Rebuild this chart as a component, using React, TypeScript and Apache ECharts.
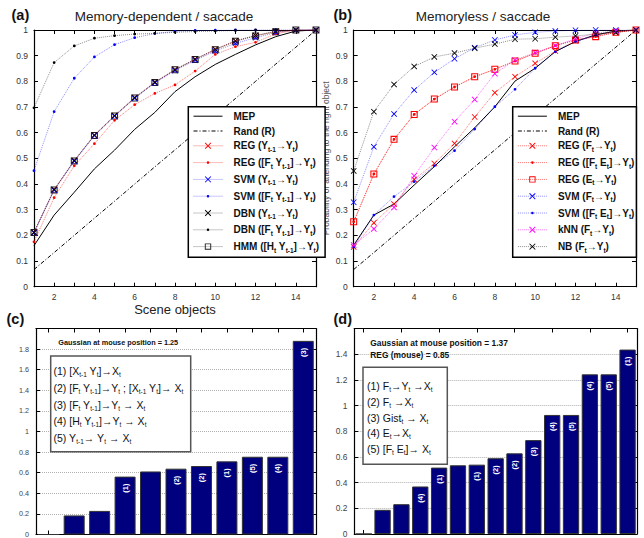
import React, { useEffect, useRef } from 'react';
import * as echarts from 'echarts';

const FONT = '"Liberation Sans", Arial, Helvetica, sans-serif';

// ---------- shared x values (scene objects) ----------
const sceneObjects = [1, 2, 3, 4, 5, 6, 7, 8, 9, 10, 11, 12, 13, 14, 15];
const xTickLabels = ['2', '4', '6', '8', '10', '12', '14'];

// ---------- Panel (a): Memory-dependent / saccade ----------
const mepA = [0.160, 0.279, 0.368, 0.459, 0.532, 0.613, 0.679, 0.760, 0.818, 0.866, 0.905, 0.942, 0.974, 0.996, 1.0];
const randA = [0.067, 0.133, 0.2, 0.267, 0.333, 0.4, 0.467, 0.533, 0.6, 0.667, 0.733, 0.8, 0.867, 0.933, 1.0];
const regYA = [0.212, 0.378, 0.491, 0.590, 0.666, 0.736, 0.796, 0.845, 0.886, 0.924, 0.957, 0.978, 0.994, 1.0, 1.0];
const regFYA = [0.175, 0.347, 0.471, 0.557, 0.648, 0.709, 0.753, 0.786, 0.840, 0.905, 0.935, 0.952, 0.985, 1.0, 1.0];
const svmYA = [0.210, 0.376, 0.489, 0.588, 0.664, 0.734, 0.794, 0.842, 0.882, 0.918, 0.948, 0.970, 0.990, 1.0, 1.0];
const svmFYA = [0.452, 0.682, 0.812, 0.895, 0.943, 0.970, 0.986, 0.995, 0.998, 0.999, 1.0, 1.0, 1.0, 1.0, 1.0];
const dbnYA = [0.212, 0.379, 0.492, 0.591, 0.667, 0.737, 0.797, 0.846, 0.887, 0.925, 0.958, 0.979, 0.995, 1.0, 1.0];
const dbnFYA = [0.697, 0.873, 0.938, 0.968, 0.978, 0.984, 0.987, 0.991, 0.994, 0.996, 0.998, 0.999, 1.0, 1.0, 1.0];
const hmmA = [0.211, 0.377, 0.490, 0.589, 0.665, 0.735, 0.795, 0.845, 0.885, 0.923, 0.956, 0.977, 0.993, 1.0, 1.0];

// ---------- Panel (b): Memoryless / saccade ----------
const mepB = [0.162, 0.279, 0.322, 0.396, 0.468, 0.545, 0.619, 0.701, 0.801, 0.851, 0.916, 0.955, 0.981, 0.996, 1.0];
const randB = [0.067, 0.133, 0.2, 0.267, 0.333, 0.4, 0.467, 0.533, 0.6, 0.667, 0.733, 0.8, 0.867, 0.933, 1.0];
const regFB = [0.155, 0.249, 0.322, 0.418, 0.480, 0.558, 0.661, 0.756, 0.818, 0.870, 0.918, 0.958, 0.981, 0.994, 1.0];
const regFEB = [0.253, 0.439, 0.574, 0.671, 0.731, 0.778, 0.818, 0.847, 0.879, 0.909, 0.939, 0.961, 0.974, 0.991, 1.0];
const regEB = [0.253, 0.439, 0.574, 0.671, 0.731, 0.778, 0.818, 0.847, 0.879, 0.909, 0.939, 0.961, 0.974, 0.991, 1.0];
const svmFB = [0.329, 0.545, 0.673, 0.766, 0.835, 0.888, 0.931, 0.961, 0.981, 0.991, 0.996, 0.999, 1.0, 1.0, 1.0];
const svmFEB = [0.155, 0.279, 0.351, 0.409, 0.471, 0.530, 0.614, 0.701, 0.769, 0.851, 0.915, 0.955, 0.980, 0.995, 1.0];
const knnB = [0.162, 0.225, 0.309, 0.432, 0.542, 0.643, 0.729, 0.830, 0.883, 0.912, 0.939, 0.966, 0.988, 0.996, 1.0];
const nbB = [0.451, 0.682, 0.788, 0.858, 0.895, 0.910, 0.929, 0.945, 0.964, 0.966, 0.972, 0.977, 0.984, 0.990, 1.0];

// ---------- Panel (c) ----------
const catsC = ['c1', 'c2', 'c3', 'c4', 'c5', 'c6', 'c7', 'c8', 'c9', 'c10', 'c11'];
const barsC = [0, 0.185, 0.229, 0.562, 0.612, 0.639, 0.665, 0.710, 0.755, 0.755, 1.88];
const tagsC = ['', '', '', '(1)', '', '(2)', '(2)', '(1)', '(5)', '(4)', '(3)'];
const infoC = ['Gaussian at mouse position = 1.25'];
const keyC = [
  '(1) [X_{t-1} Y_t]→X_t',
  '(2) [F_t Y_{t-1}]→Y_t ; [X_{t-1} Y_t]→ X_t',
  '(3) [F_t Y_{t-1}]→Y_t → X_t',
  '(4) [H_t Y_{t-1}]→Y_t → X_t',
  '(5) Y_{t-1}→ Y_t → X_t',
];

// ---------- Panel (d) ----------
const catsD = ['d1', 'd2', 'd3', 'd4', 'd5', 'd6', 'd7', 'd8', 'd9', 'd10', 'd11', 'd12', 'd13', 'd14', 'd15'];
const barsD = [0, 0.188, 0.232, 0.370, 0.517, 0.535, 0.540, 0.590, 0.628, 0.731, 0.927, 0.927, 1.243, 1.243, 1.436];
const tagsD = ['', '', '', '(4)', '(1)', '', '(1)', '(2)', '(2)', '(3)', '(4)', '(5)', '(4)', '(5)', '(1)'];
const infoD = ['Gaussian at mouse position = 1.37', 'REG (mouse) = 0.85'];
const keyD = [
  '(1) F_t→Y_t →X_t',
  '(2) F_t →X_t',
  '(3) Gist_t → X_t',
  '(4) E_t→X_t',
  '(5) [F_t E_t]→ X_t',
];

// ---------- helpers ----------
const X_SYM = 'path://M0,1L1,0L5,4L9,0L10,1L6,5L10,9L9,10L5,6L1,10L0,9L4,5Z';
const SQ_SYM = 'path://M0,0H10V10H0ZM1.5,1.5V8.5H8.5V1.5Z';
// small dot inside an otherwise empty 10x10 box (tiny zero-area marks keep the box)
const DOT_SYM = 'path://M0,0L0.01,0L0,0.01ZM10,10L9.99,10L10,9.99ZM3,5A2,2 0 1,0 7,5A2,2 0 1,0 3,5Z';

function toRich(s: string, n = 'n', sub = 's'): string {
  const parts = s.split(/(_\{[^}]*\}|_[A-Za-z0-9])/).filter((p) => p.length > 0);
  return parts
    .map((p) => {
      if (p.startsWith('_{')) return `{${sub}|${p.slice(2, -1)}}`;
      if (p.startsWith('_')) return `{${sub}|${p.slice(1)}}`;
      return `{${n}|${p}}`;
    })
    .join('');
}

function lineSeries(
  name: string,
  values: number[],
  panel: number,
  color: string,
  lineColor: string,
  lineType: any,
  symbol: string,
  symbolSize: number,
  z = 3
) {
  const noMarker = symbol === 'none';
  return {
    type: 'line',
    name,
    xAxisIndex: panel * 2,
    yAxisIndex: panel * 2,
    data: sceneObjects.map((k, i) => [k, values[i]]),
    symbol: noMarker ? 'circle' : symbol,
    symbolSize: noMarker ? 1 : symbolSize,
    showSymbol: !noMarker,
    itemStyle: { color: noMarker ? 'rgba(0,0,0,0)' : color },
    lineStyle: { color: lineColor, width: 1, type: lineType },
    z,
    silent: true,
  };
}

const RED_L = 'rgba(255,0,0,0.55)';
const BLUE_L = 'rgba(0,0,255,0.45)';
const BLACK_L = 'rgba(0,0,0,0.45)';
const MAG_L = 'rgba(255,0,255,0.55)';
const DASHDOT = [4, 2, 1, 2];

const axisLine = { show: true, onZero: false, lineStyle: { color: '#000', width: 1.2 } };
const tickIn = { show: true, inside: true, length: 4, lineStyle: { color: '#000', width: 1 } };

function lineXAxes(grid: number, withName: boolean) {
  const base = {
    type: 'value',
    gridIndex: grid,
    min: 1,
    max: 15,
    interval: 1,
    axisLine,
    axisTick: tickIn,
    splitLine: { show: false },
  };
  return [
    {
      ...base,
      position: 'bottom',
      axisLabel: {
        show: true,
        color: '#333',
        fontSize: 8.5,
        fontFamily: FONT,
        margin: 6,
        formatter: (v: number) => (xTickLabels.includes(String(v)) ? String(v) : ''),
      },
      name: withName ? 'Scene objects' : '',
      nameLocation: 'middle',
      nameGap: 14,
      nameTextStyle: { fontSize: 13, color: '#222', fontFamily: FONT },
    },
    { ...base, position: 'top', axisLabel: { show: false } },
  ];
}

function lineYAxes(grid: number, name: string) {
  const base = {
    type: 'value',
    gridIndex: grid,
    min: 0,
    max: 1,
    interval: 0.1,
    axisLine,
    axisTick: tickIn,
    splitLine: { show: false },
  };
  return [
    {
      ...base,
      position: 'left',
      axisLabel: { show: true, color: '#333', fontSize: 8.5, fontFamily: FONT, margin: 6 },
      name,
      nameLocation: 'middle',
      nameGap: 23,
      nameTextStyle: { fontSize: 8.5, color: '#555', fontFamily: FONT },
    },
    { ...base, position: 'right', axisLabel: { show: false } },
  ];
}

function barXAxes(grid: number, cats: string[]) {
  const base = {
    type: 'category',
    gridIndex: grid,
    data: cats,
    boundaryGap: true,
    axisLine,
    axisTick: { ...tickIn, alignWithLabel: true },
    axisLabel: { show: false },
    splitLine: { show: false },
  };
  return [
    { ...base, position: 'bottom' },
    { ...base, position: 'top' },
  ];
}

function barYAxes(grid: number, max: number, fs: number) {
  const base = {
    type: 'value',
    gridIndex: grid,
    min: 0,
    max,
    interval: 0.2,
    axisLine,
    axisTick: tickIn,
  };
  return [
    {
      ...base,
      position: 'left',
      axisLabel: {
        show: true,
        color: '#444',
        fontSize: fs,
        fontFamily: FONT,
        margin: 7,
        formatter: (v: number) => (v >= max - 1e-9 ? '' : String(v)),
      },
      splitLine: { show: true, lineStyle: { type: 'dotted', color: '#b0b0b0', width: 1 } },
    },
    { ...base, position: 'right', axisLabel: { show: false }, splitLine: { show: false } },
  ];
}

function barSeries(panel: number, values: number[], tags: string[], width: number, fs: number) {
  return {
    type: 'bar',
    xAxisIndex: panel * 2,
    yAxisIndex: panel * 2,
    data: values,
    barWidth: width,
    itemStyle: { color: '#00007f', borderColor: '#333', borderWidth: 1 },
    label: {
      show: true,
      position: 'insideTop',
      rotate: 90,
      align: 'right',
      verticalAlign: 'middle',
      distance: 7,
      formatter: (p: any) => tags[p.dataIndex],
      color: '#fff',
      fontSize: fs,
      fontWeight: 'bold',
      fontFamily: FONT,
    },
    silent: true,
    z: 3,
  };
}

const legendRich = {
  g: { width: 6, fontSize: 10, lineHeight: 14 },
  n: { fontSize: 10, fontWeight: 'bold', fontFamily: FONT, color: '#111', lineHeight: 14 },
  s: { fontSize: 6.5, fontWeight: 'bold', fontFamily: FONT, color: '#111', lineHeight: 7, verticalAlign: 'bottom' },
};

function topLegend(left: number, names: string[], padRight: number) {
  return {
    orient: 'vertical',
    left,
    top: 106.7,
    data: names,
    itemWidth: 29,
    itemHeight: 8,
    itemGap: 4.8,
    padding: [4.5, padRight, 3.7, 4.7],
    borderColor: '#000',
    borderWidth: 1.5,
    backgroundColor: '#fff',
    selectedMode: false,
    lineStyle: { width: 1 },
    formatter: (name: string) => '{g| }' + toRich(name),
    textStyle: { fontFamily: FONT, rich: legendRich },
  };
}

function keyBox(x: number, y: number, w: number, h: number, lines: string[], tx: number, ty: number, step: number, fs: number) {
  const rich = {
    n: { fontSize: fs, fontFamily: FONT, fill: '#111', lineHeight: 14 },
    s: { fontSize: fs * 0.62, fontFamily: FONT, fill: '#111', lineHeight: 7, verticalAlign: 'bottom' },
  };
  return [
    {
      type: 'rect',
      shape: { x, y, width: w, height: h },
      style: { fill: '#fff', stroke: '#555', lineWidth: 1.5 },
      z: 20,
    },
    ...lines.map((l, i) => ({
      type: 'text',
      x: tx,
      y: ty + i * step,
      z: 21,
      style: { text: toRich(l), rich, verticalAlign: 'middle', align: 'left', fill: '#111' },
    })),
  ];
}

function plainText(text: string, x: number, y: number, fs: number, weight: string, align = 'left', color = '#111') {
  return {
    type: 'text',
    x,
    y,
    z: 21,
    style: {
      text,
      fill: color,
      font: `${weight} ${fs}px ${FONT}`,
      align,
      verticalAlign: 'middle',
    },
  };
}

export default function App() {
  const ref = useRef<HTMLDivElement>(null);
  useEffect(() => {
    if (!ref.current) return;
    const chart = echarts.init(ref.current, undefined, { renderer: 'svg' });
    const namesA = [
      'MEP',
      'Rand (R)',
      'REG (Y_{t-1}→Y_t)',
      'REG ([F_t Y_{t-1}]→Y_t)',
      'SVM (Y_{t-1}→Y_t)',
      'SVM ([F_t Y_{t-1}]→Y_t)',
      'DBN (Y_{t-1}→Y_t)',
      'DBN ([F_t Y_{t-1}]→Y_t)',
      'HMM ([H_t Y_{t-1}]→Y_t)',
    ];
    const namesB = [
      'MEP',
      'Rand (R)',
      'REG (F_t→Y_t)',
      'REG ([F_t E_t]→Y_t)',
      'REG (E_t→Y_t)',
      'SVM (F_t→Y_t)',
      'SVM ([F_t E_t]→Y_t)',
      'kNN (F_t→Y_t)',
      'NB (F_t→Y_t)',
    ];

    const option: any = {
      animation: false,
      backgroundColor: '#fff',
      textStyle: { fontFamily: FONT },
      grid: [
        { left: 34, top: 30, width: 282, height: 256.7 },
        { left: 353.7, top: 30, width: 282.3, height: 256.7 },
        { left: 36, top: 328.5, width: 280, height: 209 },
        { left: 354.3, top: 328.5, width: 282.7, height: 207.5 },
      ],
      xAxis: [...lineXAxes(0, true), ...lineXAxes(1, false), ...barXAxes(2, catsC), ...barXAxes(3, catsD)],
      yAxis: [
        ...lineYAxes(0, ''),
        ...lineYAxes(1, 'Probability of attending to the right object'),
        ...barYAxes(2, 2, 7.2),
        ...barYAxes(3, 1.6, 8.4),
      ],
      legend: [topLegend(188.3, namesA, 6), topLegend(512.7, namesB, 2)],
      series: [
        // panel (a)
        lineSeries(namesA[8], hmmA, 0, '#222', BLACK_L, 'dotted', SQ_SYM, 7, 2),
        lineSeries(namesA[0], mepA, 0, '#000', '#000', 'solid', 'none', 0),
        lineSeries(namesA[1], randA, 0, '#000', '#000', DASHDOT, 'none', 0),
        lineSeries(namesA[2], regYA, 0, '#f00', RED_L, 'dotted', X_SYM, 6),
        lineSeries(namesA[3], regFYA, 0, '#f00', RED_L, 'dotted', DOT_SYM, 7),
        lineSeries(namesA[4], svmYA, 0, '#00f', BLUE_L, 'dotted', X_SYM, 6),
        lineSeries(namesA[5], svmFYA, 0, '#00f', BLUE_L, 'dotted', DOT_SYM, 7),
        lineSeries(namesA[6], dbnYA, 0, '#000', BLACK_L, 'dotted', X_SYM, 6),
        lineSeries(namesA[7], dbnFYA, 0, '#000', BLACK_L, 'dotted', DOT_SYM, 7),
        // panel (b)
        lineSeries(namesB[0], mepB, 1, '#000', '#000', 'solid', 'none', 0),
        lineSeries(namesB[1], randB, 1, '#000', '#000', DASHDOT, 'none', 0),
        lineSeries(namesB[4], regEB, 1, '#f00', RED_L, 'dotted', SQ_SYM, 7, 2),
        lineSeries(namesB[2], regFB, 1, '#f00', RED_L, 'dotted', X_SYM, 6),
        lineSeries(namesB[3], regFEB, 1, '#f00', RED_L, 'dotted', DOT_SYM, 7),
        lineSeries(namesB[5], svmFB, 1, '#00f', BLUE_L, 'dotted', X_SYM, 6),
        lineSeries(namesB[6], svmFEB, 1, '#00f', BLUE_L, 'dotted', DOT_SYM, 7),
        lineSeries(namesB[7], knnB, 1, '#f0f', MAG_L, 'dotted', X_SYM, 6),
        lineSeries(namesB[8], nbB, 1, '#000', BLACK_L, 'dotted', X_SYM, 6),
        // panels (c) and (d)
        barSeries(2, barsC, tagsC, 21, 7.5),
        barSeries(3, barsD, tagsD, 16.3, 7.5),
      ],
      graphic: [
        plainText('(a)', 11.5, 15, 14.5, 'bold'),
        plainText('(b)', 333.5, 15, 14.5, 'bold'),
        plainText('(c)', 6.5, 319, 14.5, 'bold'),
        plainText('(d)', 333.5, 319, 14.5, 'bold'),
        plainText('Memory-dependent / saccade', 164, 16.5, 13.5, 'normal', 'center', '#222'),
        plainText('Memoryless / saccade', 483, 16.5, 13.5, 'normal', 'center', '#222'),
        plainText(infoC[0], 58.3, 342.7, 7.3, 'bold'),
        plainText(infoD[0], 370.3, 342.7, 8.4, 'bold'),
        plainText(infoD[1], 370.3, 355, 8.4, 'bold'),
        ...keyBox(50.7, 356, 140, 95.7, keyC, 53.5, 370.7, 16.9, 10.5),
        ...keyBox(363, 367.3, 84.3, 97, keyD, 367, 386, 15.8, 10.5),
      ],
    };
    chart.setOption(option);
    return () => chart.dispose();
  }, []);
  return <div ref={ref} style={{ position: 'absolute', left: 0, top: 0, width: 644, height: 538 }} />;
}
